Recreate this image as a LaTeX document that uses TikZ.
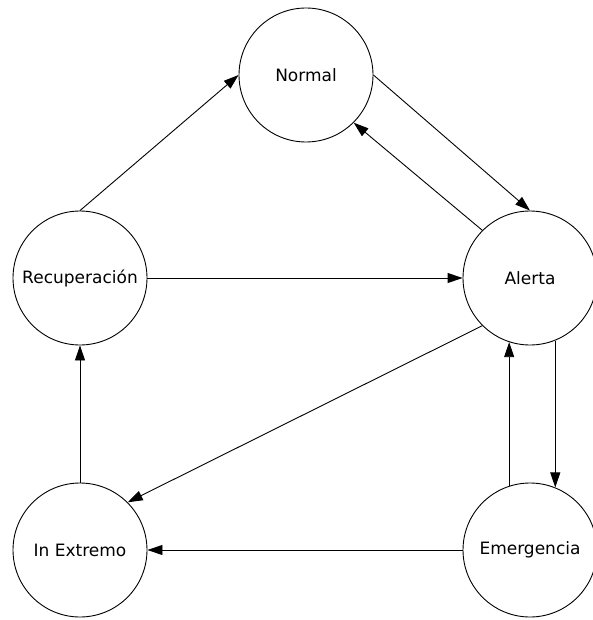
\documentclass[tikz,border=0pt]{standalone}
\usepackage{fontspec}
\setmainfont{DejaVu Sans}
\usepackage{tikz}
\usetikzlibrary{arrows.meta}

\begin{document}
\begin{tikzpicture}[x=1pt,y=-1pt,line width=0.9pt,
		statestyle/.style={circle,draw,minimum size=134pt,inner sep=0pt,font=\fontsize{17}{19}\selectfont},
		>={Triangle[length=15pt,width=10pt]}]
				\useasboundingbox (0,0) rectangle (592,620);
				
				\node [statestyle] (nor) at (306,75)  {Normal};
				\node [statestyle] (rec) at (80,278)  {Recuperación};
				\node [statestyle] (ale) at (530,278) {Alerta};
				\node [statestyle] (ext) at (80,550)  {In Extremo};
				\node [statestyle] (eme) at (530,550) {Emergencia};
				
				\foreach \a/\b in {rec.north/nor.west, nor.east/ale.north, ale.north west/nor.south east,
					rec.east/ale.west, ale.south west/ext.north east, eme.108/ale.-108,
					ale.-68/eme.68, eme.west/ext.east, ext.north/rec.south}
				\draw[->] (\a) -- (\b);
				
			\end{tikzpicture}
\end{document}
